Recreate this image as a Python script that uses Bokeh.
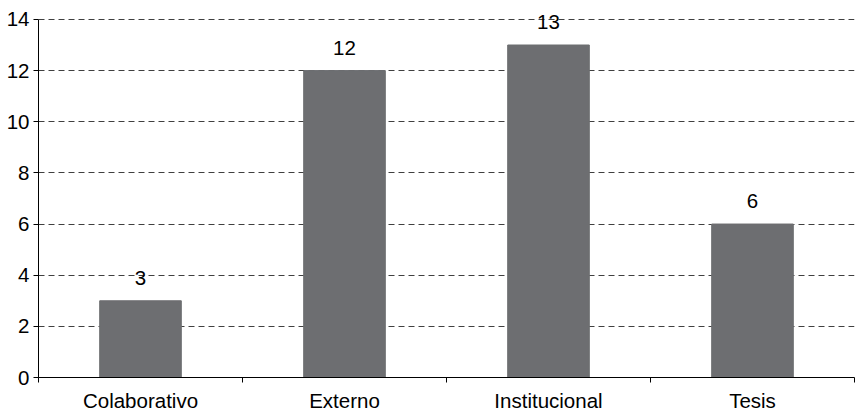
from bokeh.plotting import figure
from bokeh.models import Range1d, FixedTicker, ColumnDataSource, LabelSet
from bokeh.core.properties import value
from bokeh.embed import file_html
from bokeh.resources import INLINE

categories = ["Colaborativo", "Externo", "Institucional", "Tesis"]
counts = [3, 12, 13, 6]
y_ticks = [0, 2, 4, 6, 8, 10, 12, 14]

FONT = "Liberation Sans"
BAR = "#6D6E71"
FS = "20.5px"

xs = [i + 0.5 for i in range(len(categories))]
src = ColumnDataSource(dict(x=xs, top=counts, lab=[str(c) for c in counts]))

# a little headroom above 14 so the top value label is not clipped
p = figure(width=855, height=414, output_backend="svg", toolbar_location=None,
           x_range=Range1d(0, len(categories)), y_range=Range1d(0, 14.31),
           min_border_left=38, min_border_right=1, min_border_top=11, min_border_bottom=34)
p.outline_line_color = None
p.background_fill_color = "white"
p.border_fill_color = "white"

p.vbar(x="x", top="top", bottom=0, width=0.4, source=src,
       fill_color=BAR, line_color=BAR)

labels = LabelSet(x="x", y="top", text="lab", source=src, text_align="center",
                  text_baseline="bottom", y_offset=16, text_font=value(FONT),
                  text_font_size=value(FS), text_color="black")
p.add_layout(labels)

# x axis
p.xaxis.ticker = FixedTicker(ticks=xs, minor_ticks=list(range(len(categories) + 1)))
p.xaxis.major_label_overrides = {x: c for x, c in zip(xs, categories)}
p.xaxis.major_tick_line_color = None
p.xaxis.minor_tick_line_color = "black"
p.xaxis.minor_tick_out = 5
p.xaxis.minor_tick_in = 0
p.xaxis.axis_line_color = "black"
p.xaxis.major_label_text_font = FONT
p.xaxis.major_label_text_font_size = FS
p.xaxis.major_label_text_color = "black"
p.xaxis.major_label_standoff = 5

# y axis
p.yaxis.ticker = FixedTicker(ticks=y_ticks)
p.yaxis.bounds = (0, 14)
p.yaxis.minor_tick_line_color = None
p.yaxis.major_tick_out = 5
p.yaxis.major_tick_in = 0
p.yaxis.major_tick_line_color = "black"
p.yaxis.axis_line_color = "black"
p.yaxis.major_label_text_font = FONT
p.yaxis.major_label_text_font_size = FS
p.yaxis.major_label_text_color = "black"
p.yaxis.major_label_standoff = 4

p.xgrid.grid_line_color = None
p.ygrid.grid_line_color = "#404040"
p.ygrid.grid_line_dash = "6 4"
p.ygrid.grid_line_width = 1

open("out.html", "w").write(file_html(p, INLINE))
